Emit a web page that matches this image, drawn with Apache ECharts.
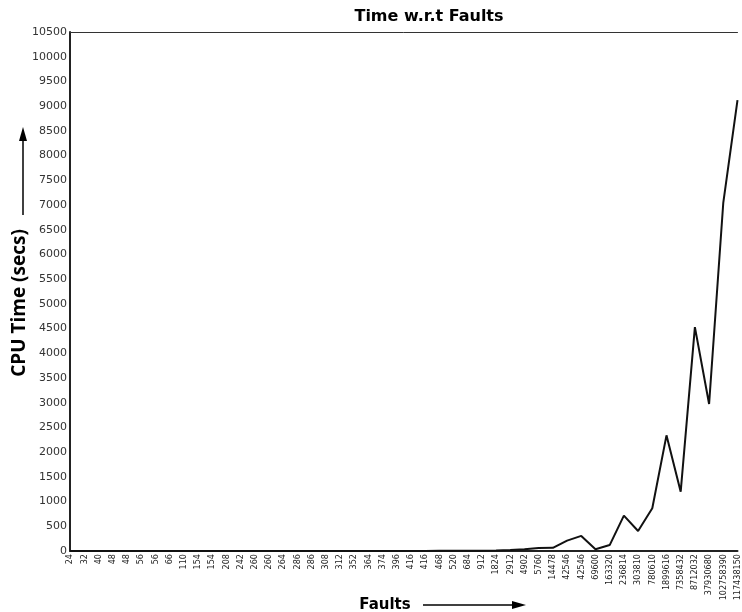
<!DOCTYPE html>
<html>
<head>
<meta charset="utf-8">
<title>Time w.r.t Faults</title>
<script src="https://cdn.jsdelivr.net/npm/echarts@6/dist/echarts.min.js"></script>
<style>
  html, body { margin: 0; padding: 0; background: #fff; }
  #chart { width: 742px; height: 612px; }
</style>
</head>
<body>
<div id="chart"></div>
<script>
// Number of faults per run (x categories)
var faults = [
  '24', '32', '40', '48', '48', '56', '56', '66', '110', '154', '154', '208',
  '242', '260', '260', '264', '286', '286', '308', '312', '352', '364', '374', '396',
  '416', '416', '468', '520', '684', '912', '1824', '2912', '4902', '5760', '14478', '42546',
  '42546', '69600', '163320', '236814', '303810', '780610', '1899616', '7358432', '8712032',
  '37930680', '102758390', '117438150'
];

// CPU time in seconds for each run
var cpuTime = [
  0, 0, 0, 0, 0, 0, 0, 0, 1, 1, 1, 1,
  1, 1, 1, 1, 2, 2, 2, 2, 2, 2, 2, 2,
  2, 2, 3, 4, 5, 6, 10, 18, 35, 60, 65, 210,
  305, 35, 120, 715, 405, 865, 2340, 1200, 4530,
  2975, 7050, 9120
];

// Y axis scale
var yMin = 0;
var yMax = 10500;
var yStep = 500;

var chart = echarts.init(document.getElementById('chart'), null, { renderer: 'canvas' });

chart.setOption({
  animation: false,
  backgroundColor: '#ffffff',
  title: {
    text: 'Time w.r.t Faults',
    left: 424,
    top: 4,
    textAlign: 'center',
    textStyle: { fontFamily: 'DejaVu Sans', fontWeight: 'bold', fontSize: 16, color: '#000' }
  },
  grid: { left: 70, right: 0, top: 32, bottom: 61, containLabel: false },
  xAxis: [
    {
      type: 'category',
      data: faults,
      boundaryGap: false,
      axisLine: { lineStyle: { color: '#222', width: 2 } },
      axisTick: { show: false },
      axisLabel: {
        interval: 0,
        rotate: 90,
        margin: 3,
        fontFamily: 'DejaVu Sans Condensed',
        fontSize: 9,
        color: '#222'
      },
      splitLine: { show: false }
    },
    {
      // frame line along the top of the plot
      type: 'category',
      data: faults,
      position: 'top',
      boundaryGap: false,
      axisLine: { lineStyle: { color: '#333', width: 1 } },
      axisTick: { show: false },
      axisLabel: { show: false },
      splitLine: { show: false }
    }
  ],
  yAxis: {
    type: 'value',
    min: yMin,
    max: yMax,
    interval: yStep,
    axisLine: { show: true, lineStyle: { color: '#222', width: 2 } },
    axisTick: { show: false },
    axisLabel: {
      margin: 3,
      fontFamily: 'DejaVu Sans',
      fontSize: 11,
      color: '#333',
      formatter: function (v) { return String(v); }
    },
    splitLine: { show: false }
  },
  series: [{
    type: 'line',
    data: cpuTime,
    showSymbol: false,
    symbol: 'none',
    smooth: false,
    lineStyle: { color: '#111', width: 2 }
  }],
  graphic: [
    // vertical axis caption with upward arrow
    {
      type: 'text',
      x: 20, y: 303,
      rotation: Math.PI / 2,
      style: {
        text: 'CPU Time (secs)',
        font: 'bold 19px "Open Sans"',
        fill: '#000',
        textAlign: 'center',
        textVerticalAlign: 'middle'
      }
    },
    {
      type: 'line',
      shape: { x1: 23, y1: 215, x2: 23, y2: 138 },
      style: { stroke: '#000', lineWidth: 1.5 }
    },
    {
      type: 'polygon',
      shape: { points: [[23, 127], [19, 141], [27, 141]] },
      style: { fill: '#000' }
    },
    // horizontal axis caption with right arrow
    {
      type: 'text',
      x: 385, y: 605,
      style: {
        text: 'Faults',
        font: 'bold 15px "DejaVu Sans"',
        fill: '#000',
        textAlign: 'center',
        textVerticalAlign: 'middle'
      }
    },
    {
      type: 'line',
      shape: { x1: 423, y1: 605, x2: 514, y2: 605 },
      style: { stroke: '#000', lineWidth: 1.5 }
    },
    {
      type: 'polygon',
      shape: { points: [[526, 605], [512, 601], [512, 609]] },
      style: { fill: '#000' }
    }
  ]
});
</script>
</body>
</html>
